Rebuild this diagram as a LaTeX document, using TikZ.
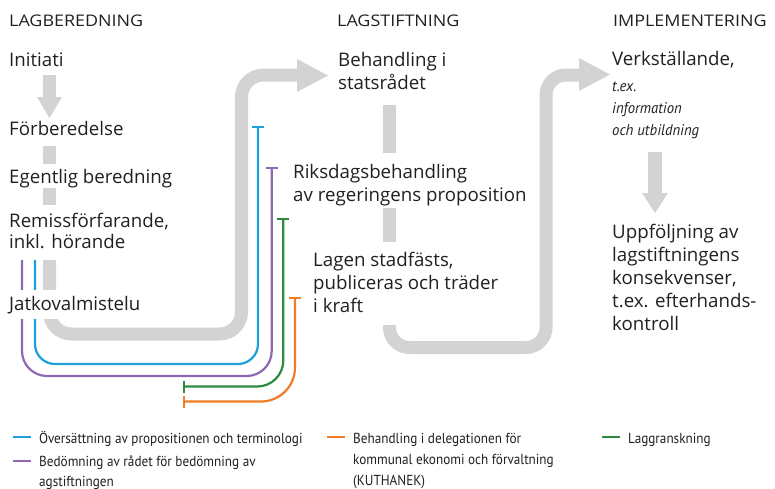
\documentclass[tikz,border=0pt]{standalone}
\usepackage{fontspec}
\setmainfont{Open Sans}
\newfontfamily\hdrf[FakeStretch=1.12]{Open Sans}
\newfontfamily\condf[FakeStretch=0.91]{PT Sans}
\newfontfamily\condi[FakeStretch=0.95]{PT Sans Italic}
\usetikzlibrary{arrows.meta}
\definecolor{gr}{HTML}{D3D3D3}
\definecolor{ink}{HTML}{231F20}
\definecolor{cblue}{HTML}{1BA0DB}
\definecolor{cpurp}{HTML}{8E68B0}
\definecolor{cgreen}{HTML}{2D8A3E}
\definecolor{corange}{HTML}{F07C27}
\begin{document}
\begin{tikzpicture}[x=1pt,y=-1pt,
  txt/.style={anchor=base west, inner sep=0pt, font=\fontsize{18.7}{23}\selectfont, align=left, text=ink},
  ital/.style={anchor=base west, inner sep=0pt, font=\condi\fontsize{15.5}{22}\selectfont, align=left, text=ink},
  hdr/.style={anchor=base west, inner sep=0pt, font=\hdrf\fontsize{16}{19}\selectfont, text=ink},
  band/.style={draw=gr, line width=13pt, rounded corners=22pt},
  bracket/.style={line width=2.2pt},
  capped/.style={{Bar[width=12pt]}-},
  leg/.style={anchor=base west, inner sep=0pt, font=\condf\fontsize{14.5}{20}\selectfont, align=left, text=ink},
  legline/.style={line width=2.2pt},
]
\useasboundingbox (0,0) rectangle (775,488);

% headers
\node[hdr] (h1) at (9,26) {LAGBEREDNING};
\node[hdr] (h2) at (337,26) {LAGSTIFTNING};
\node[hdr] (h3) at (613,26) {IMPLEMENTERING};

% gray flow bands
\draw[band] (49.5,260) -- (49.5,334) -- (241.5,334) -- (241.5,75) -- (298,75);
\fill[gr] (297,59) -- (328,75.5) -- (297,92) -- cycle;
\draw[band, rounded corners=20pt] (389.5,325) -- (389.5,347.5) -- (546,347.5) -- (546,75) -- (580,75);
\fill[gr] (579,58) -- (610,74.5) -- (579,91) -- cycle;

% left column connectors
\fill[gr] (43,75) rectangle (56,97);
\fill[gr] (37,97) -- (49.5,118) -- (62,97) -- cycle;
\fill[gr] (43,146) rectangle (56,164);
\fill[gr] (43,188) rectangle (56,205);
% middle column connectors
\fill[gr] (383,105) rectangle (396,153);
\fill[gr] (383,208) rectangle (396,242);
% right column connector
\fill[gr] (648,152) rectangle (662,193);
\fill[gr] (642,193) -- (655,213) -- (668,193) -- cycle;

% coloured brackets
\draw[bracket, capped, cblue, rounded corners=20pt] (258,126) -- (258,364) -- (35,364) -- (35,260);
\draw[bracket, capped, cpurp, rounded corners=25pt] (271.7,167) -- (271.7,376) -- (22,376) -- (22,260);
\draw[bracket, {Bar[width=12pt]}-{Bar[width=12pt]}, cgreen, rounded corners=26pt] (283.3,218) -- (283.3,386.5) -- (183,386.5);
\draw[bracket, {Bar[width=12pt]}-{Bar[width=12pt]}, corange, rounded corners=34pt] (295,296.5) -- (295,401.5) -- (183,401.5);

% left column (multi-line nodes are placed at the baseline of their last line)
\node[txt] (ini) at (9,66) {Initiati};
\node[txt] (forb) at (9,135) {Förberedelse};
\node[txt] (egen) at (9,183) {Egentlig beredning};
\node[txt, font=\fontsize{18.7}{21.5}\selectfont] (rem) at (9,248.5) {Remissförfarande,\\inkl. hörande};
\node[txt, fill=white, text height=14pt, text depth=3pt, inner xsep=2pt, inner ysep=6pt] (jat) at (7,310) {Jatkovalmistelu};

% middle column
\node[txt] (beh) at (338,89.5) {Behandling i\\statsrådet};
\node[txt] (riks) at (293,201) {Riksdagsbehandling\\av regeringens proposition};
\node[txt] (lag) at (313,312) {Lagen stadfästs,\\publiceras och träder\\i kraft};

% right column
\node[txt] (verk) at (612,65) {Verkställande,};
\node[ital] (tex) at (612,135) {t.ex.\\information\\och utbildning};
\node[txt] (upp) at (612,330) {Uppföljning av\\lagstiftningens\\konsekvenser,\\t.ex. efterhands-\\kontroll};

% legend
\coordinate (lb1) at (13,437); \coordinate (lb2) at (31,437);
\draw[legline, cblue] (lb1) -- (lb2);
\node[leg] (lbt) at (39,443) {Översättning av propositionen och terminologi};
\coordinate (lp1) at (13,461); \coordinate (lp2) at (31,461);
\draw[legline, cpurp] (lp1) -- (lp2);
\node[leg] (lpt) at (39,486) {Bedömning av rådet för bedömning av\\agstiftningen};
\coordinate (lo1) at (327,437); \coordinate (lo2) at (345,437);
\draw[legline, corange] (lo1) -- (lo2);
\node[leg, font=\condf\fontsize{14.5}{21}\selectfont] (lot) at (353,485) {Behandling i delegationen för\\kommunal ekonomi och förvaltning\\(KUTHANEK)};
\coordinate (lg1) at (602,437); \coordinate (lg2) at (620,437);
\draw[legline, cgreen] (lg1) -- (lg2);
\node[leg] (lgt) at (628,443) {Laggranskning};
\end{tikzpicture}
\end{document}
